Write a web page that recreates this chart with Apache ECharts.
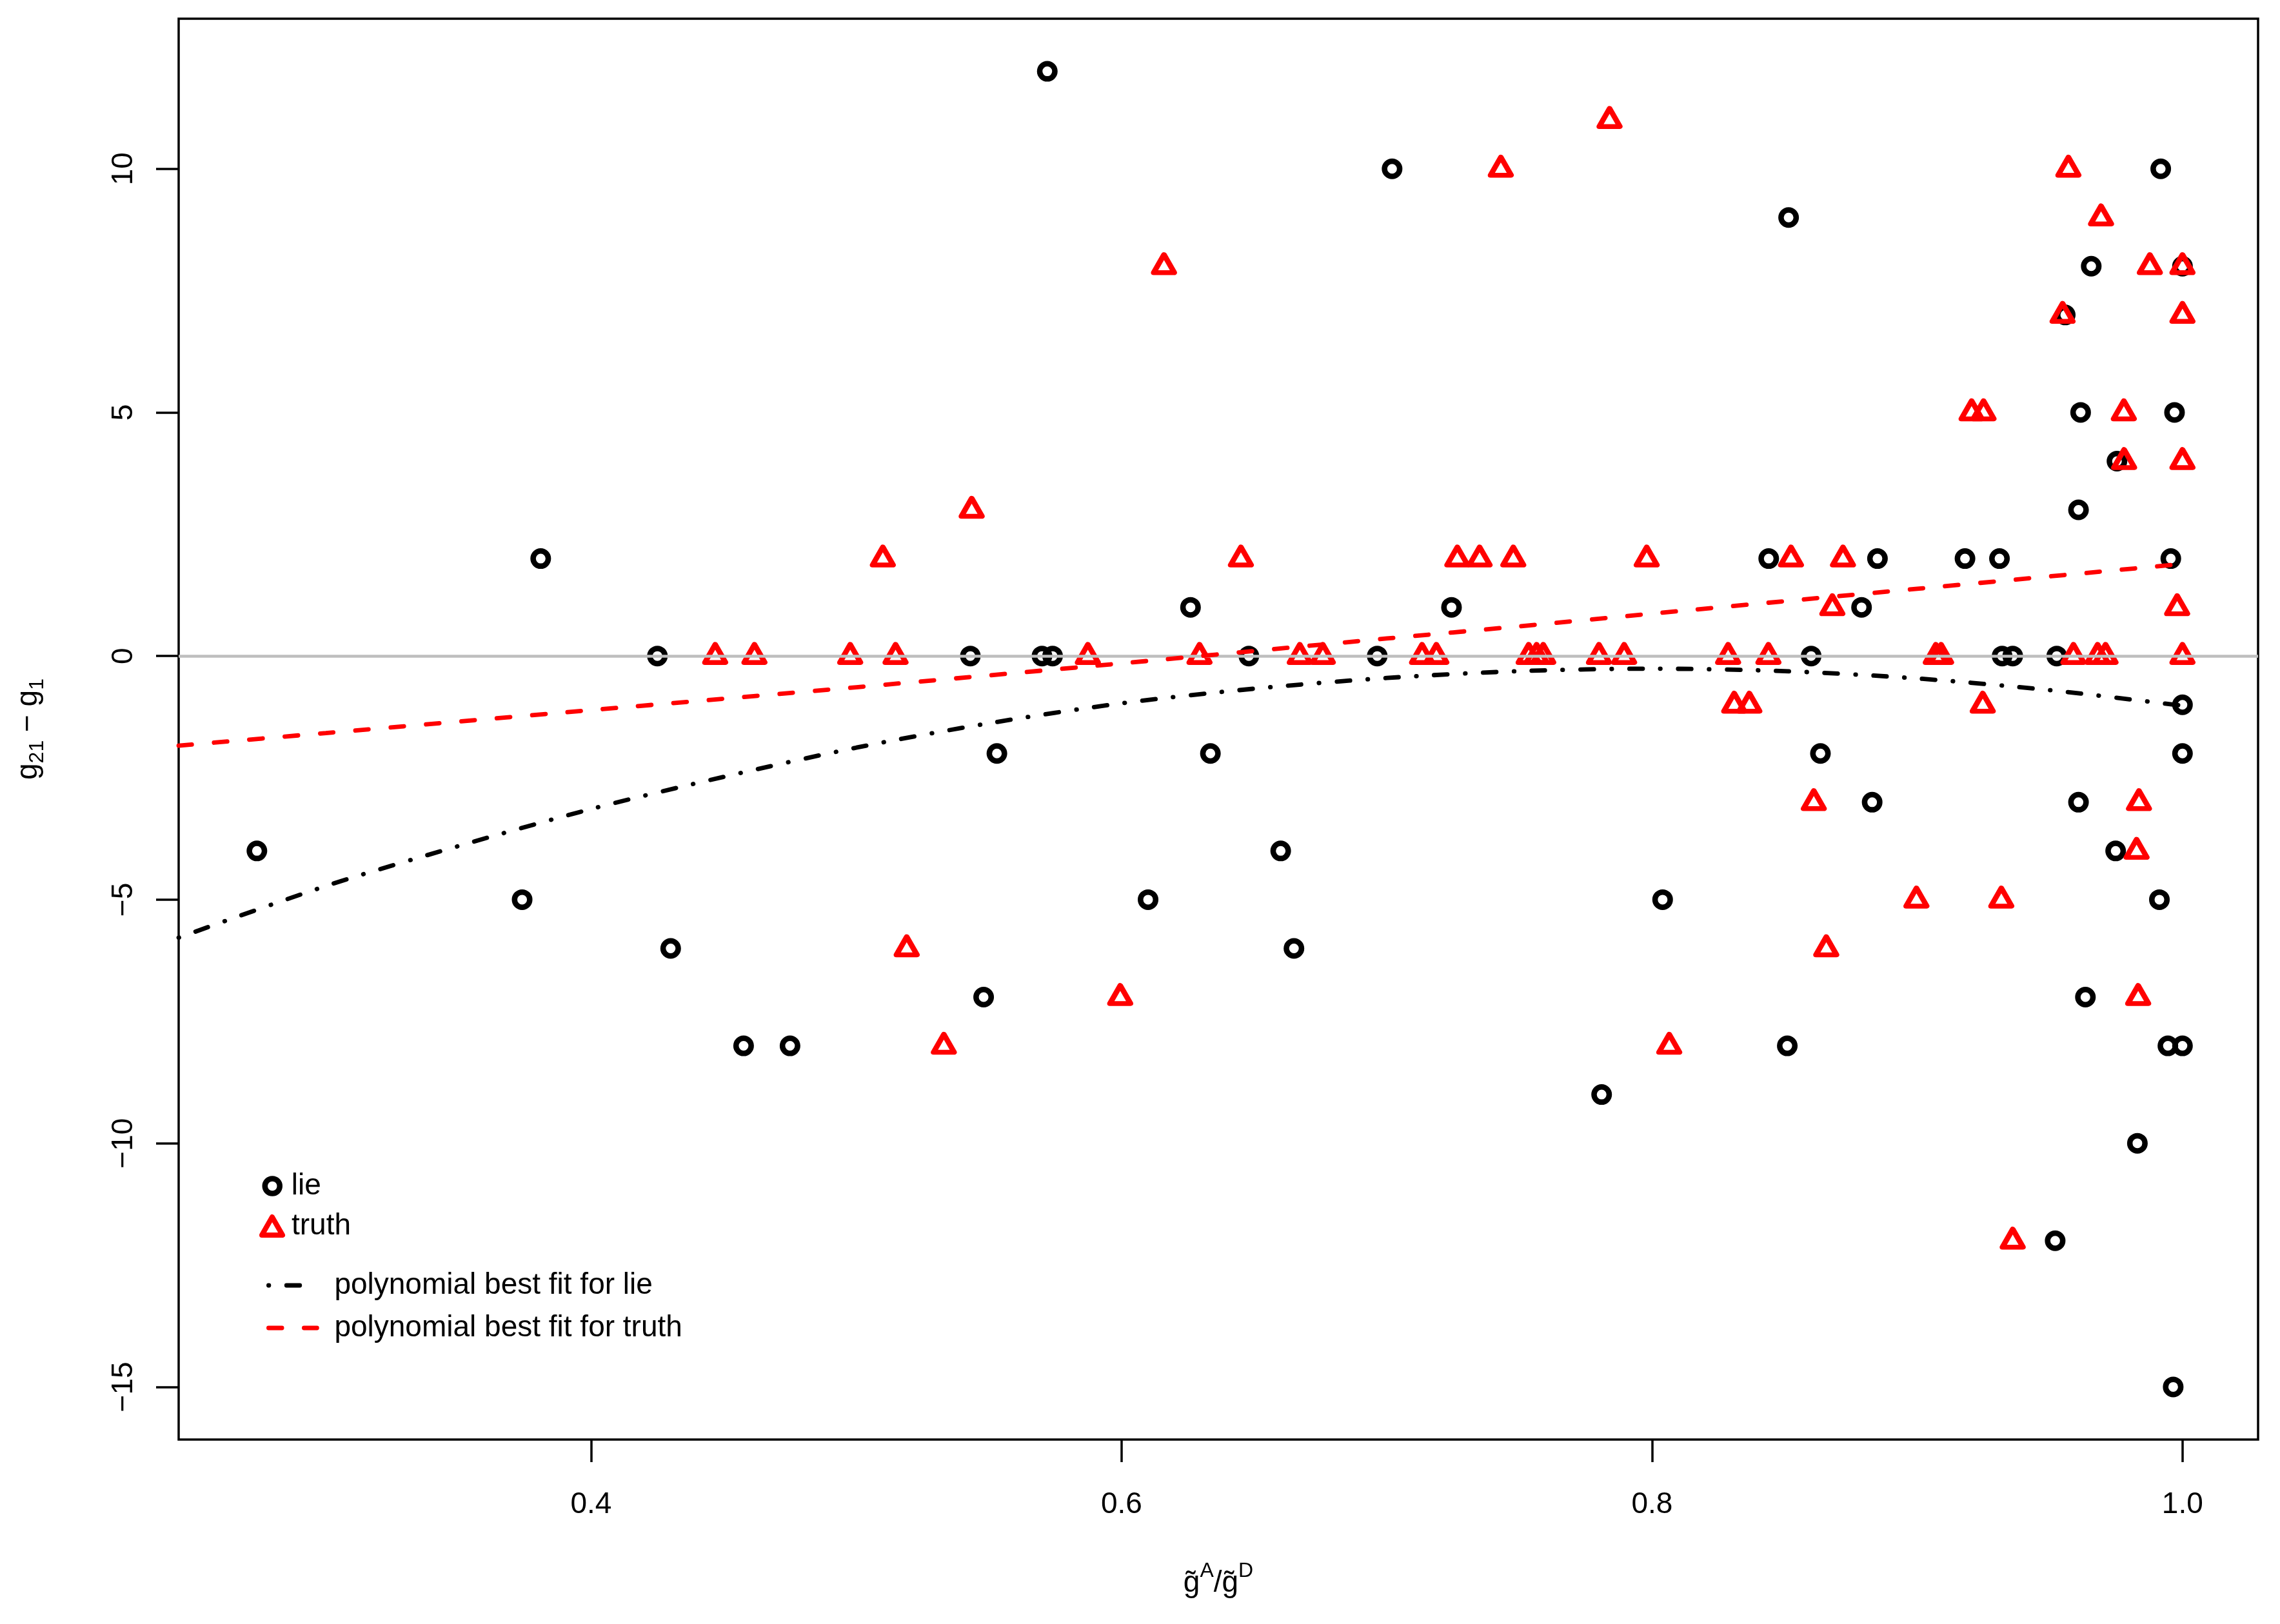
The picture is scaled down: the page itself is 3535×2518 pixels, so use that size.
<!DOCTYPE html>
<html>
<head>
<meta charset="utf-8">
<script src="https://cdn.jsdelivr.net/npm/echarts@6/dist/echarts.min.js"></script>
<style>
  html, body { margin: 0; padding: 0; background: #fff; }
  #main { width: 3535px; height: 2518px; }
</style>
</head>
<body>
<div id="main"></div>
<script>
// lie points (circles)
var lieX = [0.274, 0.374, 0.381, 0.425, 0.430, 0.4575, 0.475, 0.543, 0.548, 0.553,
  0.570, 0.574, 0.572, 0.610, 0.626, 0.6335, 0.648, 0.660, 0.665, 0.6964,
  0.702, 0.7244, 0.781, 0.804, 0.844, 0.8515, 0.851, 0.860, 0.8635, 0.879,
  0.883, 0.885, 0.918, 0.931, 0.932, 0.936, 0.952, 0.9526, 0.9558, 0.9608,
  0.9616, 0.9608, 0.9634, 0.9656, 0.9748, 0.9753, 0.983, 0.9913, 0.9918, 0.9945,
  0.9956, 0.9965, 0.997, 1.0, 1.0, 1.0, 1.0];
var lieY = [-4, -5, 2, 0, -6, -8, -8, 0, -7, -2,
  0, 0, 12, -5, 1, -2, 0, -4, -6, 0,
  10, 1, -9, -5, 2, 9, -8, 0, -2, 1,
  -3, 2, 2, 2, 0, 0, -12, 0, 7, 3,
  5, -3, -7, 8, -4, 4, -10, -5, 10, -8,
  2, -15, 5, 8, -1, -2, -8];

// truth points (triangles)
var truthX = [0.4468, 0.4616, 0.4977, 0.510, 0.5148, 0.519, 0.533, 0.5435, 0.5873, 0.5995,
  0.616, 0.6294, 0.645, 0.6672, 0.6759, 0.7133, 0.7187, 0.7266, 0.735, 0.743,
  0.7477, 0.7535, 0.7565, 0.759, 0.780, 0.784, 0.7895, 0.798, 0.8065, 0.8287,
  0.831, 0.8367, 0.8439, 0.8524, 0.861, 0.8657, 0.868, 0.872, 0.8997, 0.907,
  0.909, 0.9205, 0.925, 0.9247, 0.9317, 0.936, 0.9548, 0.957, 0.9589, 0.968,
  0.971, 0.9693, 0.9779, 0.978, 0.9827, 0.9833, 0.9836, 0.9877, 0.998, 1.0,
  1.0, 1.0, 1.0];
var truthY = [0, 0, 0, 2, 0, -6, -8, 3, 0, -7,
  8, 0, 2, 0, 0, 0, 0, 2, 2, 10,
  2, 0, 0, 0, 0, 11, 0, 2, -8, 0,
  -1, -1, 0, 2, -3, -6, 1, 2, -5, 0,
  0, 5, 5, -1, -5, -12, 7, 10, 0, 0,
  0, 9, 5, 4, -4, -7, -3, 8, 1, 8,
  7, 4, 0];

// fitted curves
var lieFitX = [0.2445, 0.30, 0.35, 0.40, 0.45, 0.50, 0.55, 0.60, 0.65, 0.70, 0.75, 0.80, 0.85, 0.90, 0.95, 1.0];
var lieFitY = [-5.78, -4.72, -3.90, -3.14, -2.48, -1.88, -1.38, -0.97, -0.67, -0.45, -0.31, -0.26, -0.31, -0.46, -0.70, -1.02];
var truthFitX = [0.2445, 0.30, 0.40, 0.50, 0.60, 0.70, 0.75, 0.80, 0.90, 1.0];
var truthFitY = [-1.84, -1.58, -1.11, -0.64, -0.15, 0.36, 0.61, 0.87, 1.38, 1.89];

var xTicks = [0.4, 0.6, 0.8, 1.0];
var yTicks = [-15, -10, -5, 0, 5, 10];

var FONT = 'Liberation Sans';
var lieDash = [0.5, 27.3, 20.6, 27.3];
var truthDash = [20.7, 34.3];

function pairs(xs, ys) {
  return xs.map(function (x, i) { return [x, ys[i]]; });
}

var chart = echarts.init(document.getElementById('main'), null, { renderer: 'canvas' });

var option = {
  animation: false,
  backgroundColor: '#fff',
  textStyle: { fontFamily: FONT, color: '#000' },
  grid: {
    left: 277, right: 34, top: 29, bottom: 286,
    show: true, borderColor: '#000', borderWidth: 3.5,
    backgroundColor: 'rgba(0,0,0,0)',
    containLabel: false, outerBoundsMode: 'none'
  },
  xAxis: {
    type: 'value', min: 0.2445, max: 1.0285,
    axisLine: { show: false, onZero: false },
    splitLine: { show: false },
    axisTick: { show: true, length: 35, customValues: xTicks, lineStyle: { color: '#000', width: 3.5 } },
    axisLabel: {
      customValues: xTicks, fontSize: 46, fontFamily: FONT, color: '#000', margin: 78,
      formatter: function (v) { return v.toFixed(1); }
    },
    name: '{g|g\u0303}{sup|A}{g|/g\u0303}{sup|D}',
    nameLocation: 'middle',
    nameGap: 188,
    nameTextStyle: {
      rich: {
        g: { fontSize: 46, fontFamily: FONT, color: '#000', lineHeight: 58, verticalAlign: 'bottom' },
        sup: { fontSize: 32, fontFamily: FONT, color: '#000', lineHeight: 32, padding: [0, 0, 26, 0], verticalAlign: 'bottom' }
      }
    }
  },
  yAxis: {
    type: 'value', min: -16.08, max: 13.08,
    axisLine: { show: false, onZero: false },
    splitLine: { show: false },
    axisTick: { show: true, length: 35, customValues: yTicks, lineStyle: { color: '#000', width: 3.5 } },
    axisLabel: {
      customValues: yTicks, fontSize: 46, fontFamily: FONT, color: '#000', margin: 62, rotate: 90,
      formatter: function (v) { return String(v).replace('-', '\u2212'); }
    },
    name: '{g|g}{sub|21}{g| \u2212 g}{sub|1}',
    nameLocation: 'middle',
    nameRotate: 90,
    nameGap: 210,
    nameTextStyle: {
      rich: {
        g: { fontSize: 46, fontFamily: FONT, color: '#000', lineHeight: 46, verticalAlign: 'top' },
        sub: { fontSize: 32, fontFamily: FONT, color: '#000', lineHeight: 32, padding: [21, 0, 0, 0], verticalAlign: 'top' }
      }
    }
  },
  legend: [
    {
      data: ['lie'], orient: 'vertical', left: 406.5, top: 1816, padding: 0,
      itemWidth: 23, itemHeight: 23, selectedMode: false,
      itemStyle: { color: 'rgba(0,0,0,0)', borderColor: '#000', borderWidth: 8.5, opacity: 1 },
      textStyle: { fontSize: 46, fontFamily: FONT, color: '#000', padding: [0, 0, 0, 13] }
    },
    {
      data: ['truth'], orient: 'vertical', left: 402, top: 1878, padding: 0,
      itemWidth: 32, itemHeight: 28, selectedMode: false,
      itemStyle: { color: 'rgba(0,0,0,0)', borderColor: '#ff0000', borderWidth: 8, borderJoin: 'round', opacity: 1 },
      textStyle: { fontSize: 46, fontFamily: FONT, color: '#000', padding: [0, 0, 0, 9] }
    },
    {
      data: [
        { name: 'polynomial best fit for lie', itemStyle: { opacity: 0 },
          lineStyle: { color: '#000', width: 6.8, type: lieDash, cap: 'round' } },
        { name: 'polynomial best fit for truth', itemStyle: { opacity: 0 },
          lineStyle: { color: '#ff0000', width: 6.8, type: truthDash, cap: 'round' } }
      ],
      orient: 'vertical', left: 413, top: 1970, padding: 0, itemGap: 20,
      itemWidth: 75, itemHeight: 14, selectedMode: false,
      textStyle: { fontSize: 46, fontFamily: FONT, color: '#000', padding: [0, 0, 0, 22] }
    }
  ],
  series: [
    {
      name: 'lie', type: 'scatter', z: 2, silent: true,
      symbol: 'circle', symbolSize: 23.5,
      itemStyle: { color: 'rgba(0,0,0,0)', borderColor: '#000', borderWidth: 8.5, opacity: 1 },
      emphasis: { disabled: true },
      data: pairs(lieX, lieY)
    },
    {
      name: 'truth', type: 'scatter', z: 3, silent: true,
      symbol: 'triangle', symbolSize: [32, 28], symbolOffset: [0, -4],
      itemStyle: { color: 'rgba(0,0,0,0)', borderColor: '#ff0000', borderWidth: 8, borderJoin: 'round', opacity: 1 },
      emphasis: { disabled: true },
      data: pairs(truthX, truthY)
    },
    {
      name: 'zero', type: 'line', z: 4, silent: true, data: [],
      markLine: {
        silent: true, symbol: ['none', 'none'], z: 4,
        label: { show: false },
        lineStyle: { color: '#bebebe', width: 4.5, type: 'solid', opacity: 1 },
        emphasis: { disabled: true },
        data: [{ yAxis: 0 }]
      }
    },
    {
      name: 'polynomial best fit for lie', type: 'line', z: 5, silent: true,
      symbol: 'none', smooth: 0.3,
      lineStyle: { color: '#000', width: 6.8, type: lieDash, cap: 'round' },
      itemStyle: { color: '#000' },
      data: pairs(lieFitX, lieFitY)
    },
    {
      name: 'polynomial best fit for truth', type: 'line', z: 6, silent: true,
      symbol: 'none', smooth: 0.3,
      lineStyle: { color: '#ff0000', width: 6.8, type: truthDash, cap: 'round' },
      itemStyle: { color: '#ff0000' },
      data: pairs(truthFitX, truthFitY)
    }
  ]
};

chart.setOption(option);
</script>
</body>
</html>
